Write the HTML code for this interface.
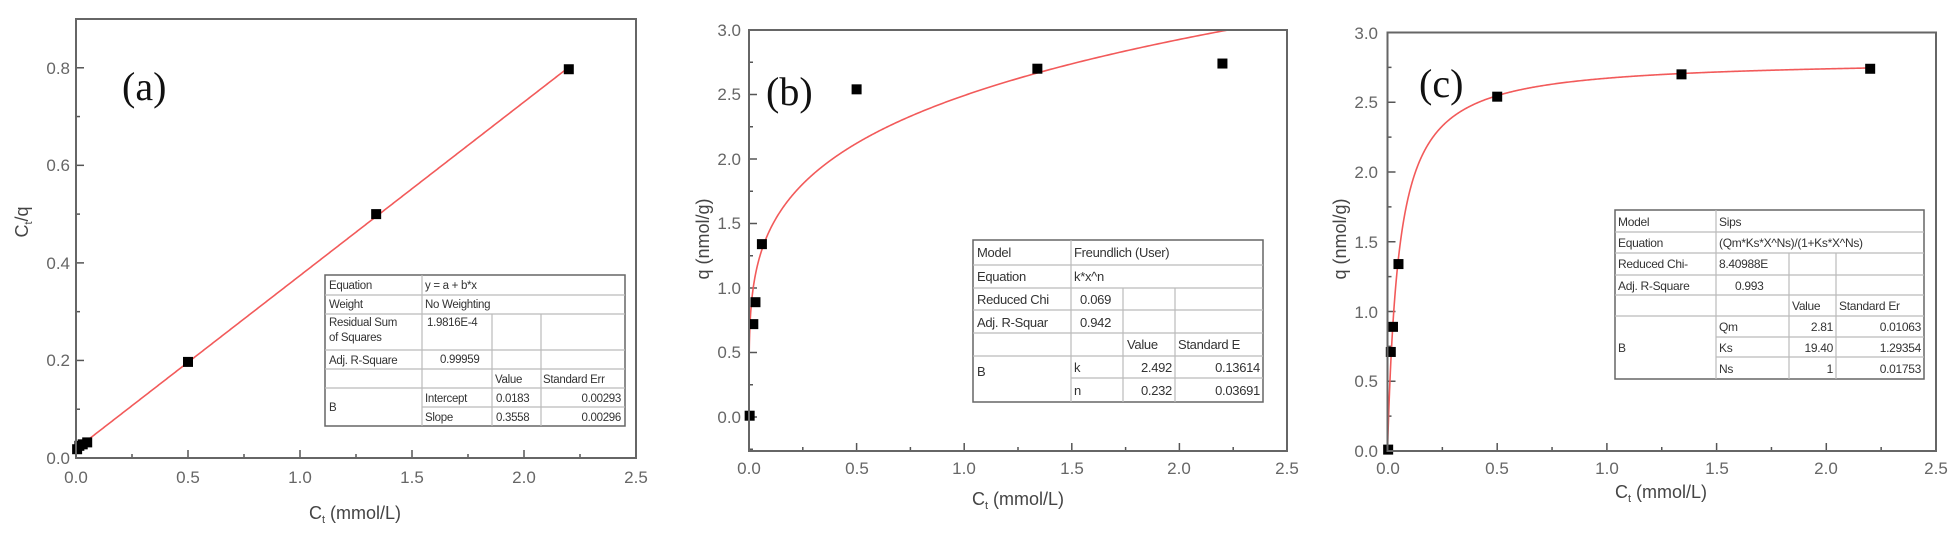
<!DOCTYPE html>
<html><head><meta charset="utf-8"><style>
html,body{margin:0;padding:0;background:#fff;}
svg{display:block;}
.tk{font-family:"Liberation Sans",sans-serif;font-size:17px;fill:#666;}
.lb{font-family:"Liberation Sans",sans-serif;font-size:18px;fill:#444;}
.pl{font-family:"Liberation Serif",serif;font-size:40px;fill:#111;}
.tb{font-family:"Liberation Sans",sans-serif;font-size:11.5px;fill:#333;letter-spacing:-0.3px;}
</style></head><body>
<svg id="s" width="1955" height="535" viewBox="0 0 1955 535" xmlns="http://www.w3.org/2000/svg">
<g id="g"></g>
<g class="tk" text-anchor="end">
<text x="70" y="464">0.0</text><text x="70" y="366">0.2</text><text x="70" y="269">0.4</text><text x="70" y="171">0.6</text><text x="70" y="74">0.8</text>
</g>
<g class="tk" text-anchor="middle">
<text x="76" y="483">0.0</text><text x="188" y="483">0.5</text><text x="300" y="483">1.0</text><text x="412" y="483">1.5</text><text x="524" y="483">2.0</text><text x="636" y="483">2.5</text>
</g>
<text class="lb" x="355" y="519" text-anchor="middle">C<tspan font-size="11" dy="4">t</tspan><tspan dy="-4"> (mmol/L)</tspan></text>
<text class="lb" transform="translate(28,222) rotate(-90)" text-anchor="middle">C<tspan font-size="11" dy="4">t</tspan><tspan dy="-4">/q</tspan></text>
<text class="pl" x="122" y="100">(a)</text>
<g class="tk" text-anchor="end">
<text x="741" y="423">0.0</text><text x="741" y="358">0.5</text><text x="741" y="294">1.0</text><text x="741" y="229">1.5</text><text x="741" y="165">2.0</text><text x="741" y="100">2.5</text><text x="741" y="36">3.0</text>
</g>
<g class="tk" text-anchor="middle">
<text x="749" y="474">0.0</text><text x="857" y="474">0.5</text><text x="964" y="474">1.0</text><text x="1072" y="474">1.5</text><text x="1179" y="474">2.0</text><text x="1287" y="474">2.5</text>
</g>
<text class="lb" x="1018" y="505" text-anchor="middle">C<tspan font-size="11" dy="4">t</tspan><tspan dy="-4"> (mmol/L)</tspan></text>
<text class="lb" transform="translate(709,239) rotate(-90)" text-anchor="middle">q (nmol/g)</text>
<text class="pl" x="766" y="105">(b)</text>
<g class="tk" text-anchor="end">
<text x="1378" y="457">0.0</text><text x="1378" y="387">0.5</text><text x="1378" y="318">1.0</text><text x="1378" y="248">1.5</text><text x="1378" y="178">2.0</text><text x="1378" y="108">2.5</text><text x="1378" y="39">3.0</text>
</g>
<g class="tk" text-anchor="middle">
<text x="1388" y="474">0.0</text><text x="1497" y="474">0.5</text><text x="1607" y="474">1.0</text><text x="1717" y="474">1.5</text><text x="1826" y="474">2.0</text><text x="1936" y="474">2.5</text>
</g>
<text class="lb" x="1661" y="498" text-anchor="middle">C<tspan font-size="11" dy="4">t</tspan><tspan dy="-4"> (mmol/L)</tspan></text>
<text class="lb" transform="translate(1346,239) rotate(-90)" text-anchor="middle">q (nmol/g)</text>
<text class="pl" x="1419" y="97">(c)</text>

<g class="tb">
<text x="329" y="289">Equation</text><text x="425" y="289">y = a + b*x</text>
<text x="329" y="308">Weight</text><text x="425" y="308">No Weighting</text>
<text x="329" y="326">Residual Sum</text><text x="329" y="341">of Squares</text><text x="427" y="326">1.9816E-4</text>
<text x="329" y="364">Adj. R-Square</text><text x="440" y="363">0.99959</text>
<text x="495" y="383">Value</text><text x="543" y="383">Standard Err</text>
<text x="329" y="411">B</text>
<text x="425" y="402">Intercept</text><text x="496" y="402">0.0183</text><text x="621" y="402" text-anchor="end">0.00293</text>
<text x="425" y="421">Slope</text><text x="496" y="421">0.3558</text><text x="621" y="421" text-anchor="end">0.00296</text>
</g>
<g class="tb" style="font-size:13px">
<text x="977" y="257">Model</text><text x="1074" y="257">Freundlich (User)</text>
<text x="977" y="281">Equation</text><text x="1074" y="281">k*x^n</text>
<text x="977" y="304">Reduced Chi</text><text x="1080" y="304">0.069</text>
<text x="977" y="327">Adj. R-Squar</text><text x="1080" y="327">0.942</text>
<text x="1127" y="349">Value</text><text x="1178" y="349">Standard E</text>
<text x="977" y="376">B</text>
<text x="1074" y="372">k</text><text x="1172" y="372" text-anchor="end">2.492</text><text x="1260" y="372" text-anchor="end">0.13614</text>
<text x="1074" y="395">n</text><text x="1172" y="395" text-anchor="end">0.232</text><text x="1260" y="395" text-anchor="end">0.03691</text>
</g>
<g class="tb" style="font-size:12px">
<text x="1618" y="226">Model</text><text x="1719" y="226">Sips</text>
<text x="1618" y="247">Equation</text><text x="1719" y="247">(Qm*Ks*X^Ns)/(1+Ks*X^Ns)</text>
<text x="1618" y="268">Reduced Chi-</text><text x="1719" y="268">8.40988E</text>
<text x="1618" y="290">Adj. R-Square</text><text x="1735" y="290">0.993</text>
<text x="1792" y="310">Value</text><text x="1839" y="310">Standard Er</text>
<text x="1618" y="352">B</text>
<text x="1719" y="331">Qm</text><text x="1833" y="331" text-anchor="end">2.81</text><text x="1921" y="331" text-anchor="end">0.01063</text>
<text x="1719" y="352">Ks</text><text x="1833" y="352" text-anchor="end">19.40</text><text x="1921" y="352" text-anchor="end">1.29354</text>
<text x="1719" y="373">Ns</text><text x="1833" y="373" text-anchor="end">1</text><text x="1921" y="373" text-anchor="end">0.01753</text>
</g>
</svg>
<script>
var NS="http://www.w3.org/2000/svg",g=document.getElementById('g');
function el(t,a){var e=document.createElementNS(NS,t);for(var k in a)e.setAttribute(k,a[k]);g.appendChild(e);return e;}
function panel(P){
  var X=function(v){return P.x0+(v-P.xa)/(P.xb-P.xa)*(P.x1-P.x0);};
  var Y=function(v){return P.y1-(v-P.ya)/(P.yb-P.ya)*(P.y1-P.y0);};
  for(var v=0;v<=2.5001;v+=0.25){var maj=Math.abs(v*2-Math.round(v*2))<1e-6;var L=maj?8:4;
    el('line',{x1:X(v),x2:X(v),y1:P.y1,y2:P.y1-L,stroke:'#555','stroke-width':1.5});}
  for(var i=0;i<P.yt.length;i++){var v=P.yt[i];var maj=P.ym(i);var L=maj?8:4;
    el('line',{x1:P.x0,x2:P.x0+L,y1:Y(v),y2:Y(v),stroke:'#555','stroke-width':1.5});}
  var d='';for(var k=0;k<=600;k++){var x=P.cx0+(P.cx1-P.cx0)*Math.pow(k/600,P.pw);var y=P.f(x);if(y>P.yb)break;d+=(d?'L':'M')+X(x).toFixed(2)+','+Y(y).toFixed(2);}
  el('path',{d:d,fill:'none',stroke:'#f25a5a','stroke-width':1.6});
  P.pts.forEach(function(p){el('rect',{x:X(p[0])-5,y:Y(p[1])-5,width:10,height:10,fill:'#000'});});
  el('rect',{x:P.x0,y:P.y0,width:P.x1-P.x0,height:P.y1-P.y0,fill:'none',stroke:'#666','stroke-width':2});
}
function table(x0,x1,rows,cols,spans){
  el('rect',{x:x0,y:rows[0],width:x1-x0,height:rows[rows.length-1]-rows[0],fill:'#fff',stroke:'#666','stroke-width':1.5});
  spans.forEach(function(s){el('line',{x1:s[0],x2:s[1],y1:s[2],y2:s[3],stroke:'#bbb','stroke-width':1.2});});
}
var ya=[],yb=[],yc=[];
for(var v=0;v<=0.9;v+=0.1)ya.push(+v.toFixed(2));
for(var v=-0.25;v<=3.0001;v+=0.25)yb.push(+v.toFixed(2));
for(var v=0;v<=3.0001;v+=0.25)yc.push(+v.toFixed(2));
panel({x0:76,x1:636,y0:19,y1:458,xa:0,xb:2.5,ya:0,yb:0.9,yt:ya,ym:function(i){return i%2==0;},
  f:function(x){return 0.0183+0.3558*x;},cx0:0,cx1:2.2,pw:1,
  pts:[[0.005,0.018],[0.015,0.025],[0.03,0.028],[0.05,0.032],[0.5,0.197],[1.34,0.5],[2.2,0.797]]});
panel({x0:749,x1:1287,y0:30,y1:451,xa:0,xb:2.5,ya:-0.2636,yb:3.0,yt:yb,ym:function(i){return i%2==1;},
  f:function(x){return 2.492*Math.pow(x,0.232);},cx0:0,cx1:2.5,pw:3,
  pts:[[0.003,0.01],[0.02,0.72],[0.03,0.89],[0.06,1.34],[0.5,2.54],[1.34,2.7],[2.2,2.74]]});
panel({x0:1387.5,x1:1936,y0:32.5,y1:451,xa:0,xb:2.5,ya:0,yb:3.0,yt:yc,ym:function(i){return i%2==0;},
  f:function(x){return 2.81*19.4*x/(1+19.4*x);},cx0:0,cx1:2.2,pw:2,
  pts:[[0.003,0.01],[0.015,0.71],[0.025,0.89],[0.05,1.34],[0.5,2.54],[1.34,2.7],[2.2,2.74]]});
table(325,625,[275,426],[],[
 [325,625,295,295],[325,625,314,314],[325,625,350,350],[325,625,369,369],[422,625,388,388],[325,422,388,388],[422,625,407,407],
 [422,422,275,426],[492,492,314,426],[541,541,314,426]]);
table(973,1263,[240,402],[],[
 [973,1263,265,265],[973,1263,288,288],[973,1263,310,310],[973,1263,333,333],[973,1263,356,356],[1071,1263,378,378],
 [1071,1071,240,402],[1123,1123,288,402],[1175,1175,288,402]]);
table(1615,1924,[210,379],[],[
 [1615,1924,232,232],[1615,1924,253,253],[1615,1924,275,275],[1615,1924,295,295],[1615,1924,316,316],[1716,1924,337,337],[1716,1924,357,357],
 [1716,1716,210,379],[1789,1789,253,379],[1836,1836,253,379]]);
var s=document.getElementById('s');s.insertBefore(g,s.firstChild);
</script>
</body></html>
